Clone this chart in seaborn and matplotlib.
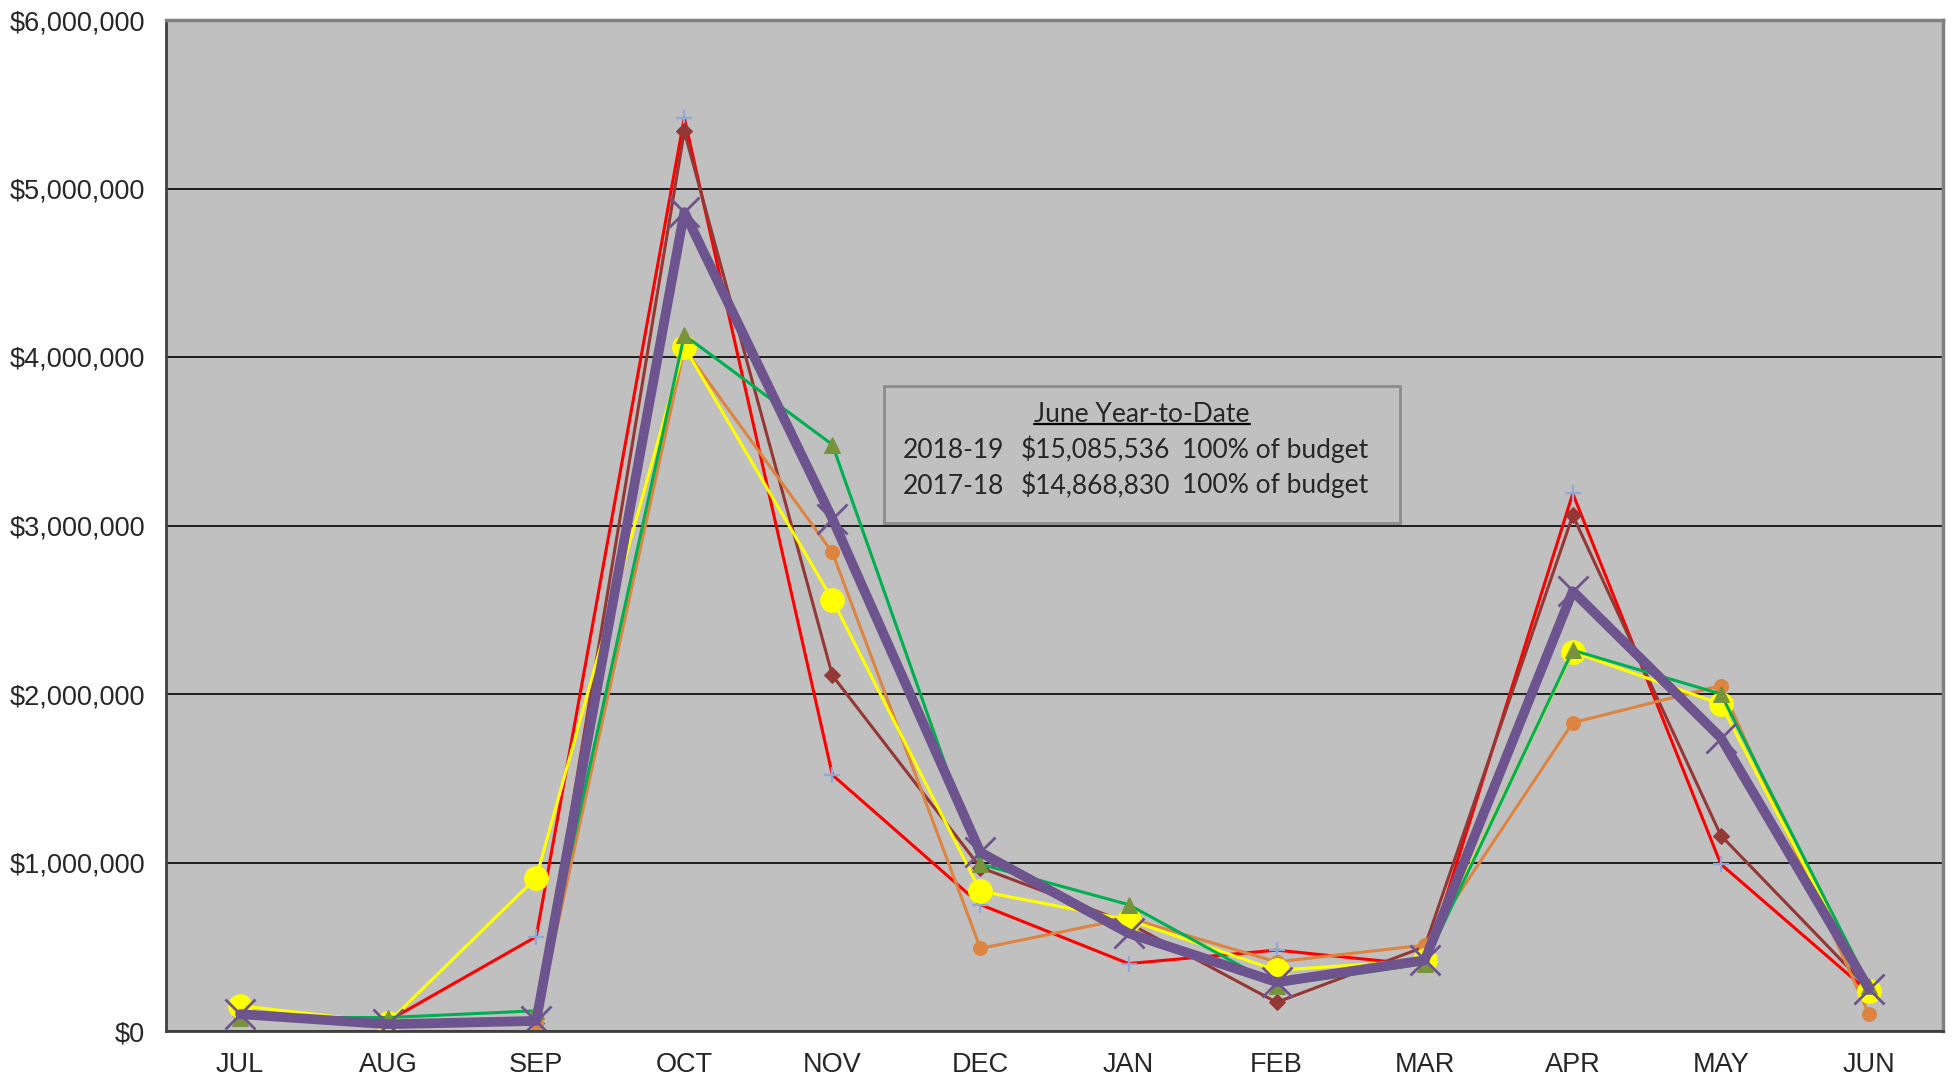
import numpy as np
import pandas as pd
import matplotlib
matplotlib.use("Agg")
import matplotlib.pyplot as plt
import seaborn as sns
from matplotlib.patches import Rectangle
from matplotlib.lines import Line2D
from matplotlib.ticker import FuncFormatter, MultipleLocator

# -----------------------------------
# DATA
# -----------------------------------

months = ["JUL", "AUG", "SEP", "OCT", "NOV", "DEC",
          "JAN", "FEB", "MAR", "APR", "MAY", "JUN"]

red_vals = [0.09, 0.06, 0.56, 5.42, 1.52, 0.75, 0.40, 0.48, 0.39, 3.19, 0.99, 0.23]
brown_vals = [0.10, 0.05, 0.05, 5.34, 2.11, 0.97, 0.64, 0.17, 0.50, 3.06, 1.16, 0.25]
orange_vals = [0.10, 0.05, 0.05, 4.05, 2.84, 0.49, 0.67, 0.41, 0.51, 1.83, 2.05, 0.10]
yellow_vals = [0.15, 0.05, 0.91, 4.06, 2.56, 0.83, 0.66, 0.36, 0.42, 2.25, 1.94, 0.24]
green_vals = [0.08, 0.08, 0.12, 4.13, 3.48, 0.99, 0.75, 0.27, 0.40, 2.26, 2.00, 0.27]
purple_vals = [0.10, 0.04, 0.06, 4.86, 3.04, 1.06, 0.58, 0.29, 0.42, 2.61, 1.74, 0.25]

box_title = "June Year-to-Date"
box_years = ["2018-19", "2017-18"]
box_amounts = ["$15,085,536", "$14,868,830"]
box_pcts = ["100% of budget", "100% of budget"]

# -----------------------------------
# FIGURE
# -----------------------------------

sns.set_style("white")
plt.rcParams["font.family"] = ["Liberation Sans", "DejaVu Sans"]

W, H = 1953, 1080
fig = plt.figure(figsize=(W / 100, H / 100), dpi=100)
ax = fig.add_axes([166 / W, 1 - 1031 / H, (1943 - 166) / W, (1031 - 20) / H])
ax.set_facecolor("#C0C0C0")

x = np.arange(len(months))

series = [
    (red_vals, dict(color="#FF0000", lw=2.2, marker="+", ms=11, mew=1.6,
                    mec="#8EA9D8", mfc="#8EA9D8")),
    (brown_vals, dict(color="#953735", lw=2.2, marker="D", ms=8,
                      mec="#953735", mfc="#953735")),
    (orange_vals, dict(color="#DD8440", lw=2.2, marker="o", ms=10,
                       mec="#DD8440", mfc="#DD8440")),
    (yellow_vals, dict(color="#FFFF00", lw=2.2, marker="o", ms=17,
                       mec="#FFFF00", mfc="#FFFF00")),
    (green_vals, dict(color="#00B050", lw=2.2, marker="^", ms=12,
                      mec="#77933C", mfc="#77933C")),
    (purple_vals, dict(color="#6D548E", lw=7, marker="x", ms=22, mew=2,
                       mec="#6D548E", mfc="#6D548E")),
]

for vals, style in series:
    sns.lineplot(x=x, y=np.array(vals) * 1e6, ax=ax, legend=False, **style)

# -----------------------------------
# AXES
# -----------------------------------

ax.set_xlim(-0.5, len(months) - 0.5)
ax.set_ylim(0, 6e6)
ax.yaxis.set_major_locator(MultipleLocator(1e6))
ax.yaxis.set_major_formatter(FuncFormatter(lambda v, p: f"${v:,.0f}"))
ax.grid(axis="y", color="black", lw=1.2)
ax.set_axisbelow(True)

ax.set_xticks(x)
ax.set_xticklabels(months)
ax.set_xticks(np.arange(-0.5, len(months)), minor=True)
ax.tick_params(axis="x", which="major", length=0, pad=15, labelsize=19.5)
ax.tick_params(axis="x", which="minor", length=9, width=1.5, color="#333333",
               direction="out")
ax.tick_params(axis="y", length=9, width=1.5, color="#333333", labelsize=19.5,
               pad=6, direction="out")
ax.set_xlabel("")
ax.set_ylabel("")

for side in ["left", "bottom"]:
    ax.spines[side].set_color("#404040")
    ax.spines[side].set_linewidth(2)
for side in ["top", "right"]:
    ax.spines[side].set_color("#808080")
    ax.spines[side].set_linewidth(2.5)

# -----------------------------------
# TEXT BOX
# -----------------------------------

def fx(px):
    return px / W


def fy(py):
    return 1 - py / H


fig.patches.append(Rectangle((fx(884), fy(523)), fx(1400) - fx(884),
                             fy(386) - fy(523), transform=fig.transFigure,
                             facecolor="#C0C0C0", edgecolor="#8C8C8C",
                             lw=2, zorder=5))

box_font = ["Lato", "DejaVu Sans"]
title = fig.text(fx(1142), fy(414), box_title, ha="center", va="center",
                 fontsize=19, family=box_font, zorder=6)

for i in range(2):
    yy = fy(450 + i * 36)
    fig.text(fx(903), yy, box_years[i], ha="left", va="center",
             fontsize=19, family=box_font, zorder=6)
    fig.text(fx(1021), yy, box_amounts[i], ha="left", va="center",
             fontsize=19, family=box_font, zorder=6)
    fig.text(fx(1182), yy, box_pcts[i], ha="left", va="center",
             fontsize=19, family=box_font, zorder=6)

# underline for the box title
fig.canvas.draw()
bb = title.get_window_extent().transformed(fig.transFigure.inverted())
fig.lines.append(Line2D([bb.x0, bb.x1], [bb.y0 + 0.002, bb.y0 + 0.002],
                        transform=fig.transFigure, color="black", lw=1.6,
                        zorder=6))

fig.savefig("out.png", dpi=100, facecolor="white")
